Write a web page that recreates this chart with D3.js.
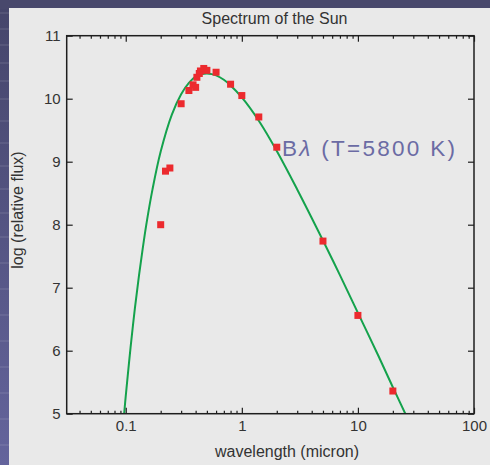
<!DOCTYPE html>
<html>
<head>
<meta charset="utf-8">
<script src="https://cdn.jsdelivr.net/npm/d3@7"></script>
<style>
  html, body { margin: 0; padding: 0; background: #48486c; }
  svg { display: block; }
  text { font-family: "Liberation Sans", Arial, sans-serif; }
</style>
</head>
<body>
<svg id="chart" width="490" height="465"></svg>
<script>
// Measured solar fluxes: wavelength (micron) and log10 relative flux
const obsWavelength = [0.2, 0.22, 0.24, 0.3, 0.35, 0.38, 0.4, 0.41, 0.43, 0.44, 0.47, 0.5, 0.6, 0.8, 1.0, 1.4, 2.0, 5, 10, 20];
const obsLogFlux    = [8.0, 8.85, 8.9, 9.92, 10.13, 10.22, 10.18, 10.34, 10.40, 10.44, 10.48, 10.45, 10.42, 10.23, 10.05, 9.71, 9.23, 7.74, 6.56, 5.36];

// Blackbody curve B_lambda for T = 5800 K, sampled along the wavelength axis
const bbWavelength = [0.097, 0.1, 0.105, 0.11, 0.12, 0.13, 0.14, 0.15, 0.17, 0.2, 0.25, 0.3, 0.35, 0.4, 0.45, 0.5, 0.55, 0.6, 0.7, 0.8, 1.0, 1.4, 2.0, 3.0, 5.0, 7.0, 10, 15, 20, 25.6];
const bbLogFlux    = [5.01, 5.28, 5.68, 6.05, 6.68, 7.19, 7.62, 7.99, 8.56, 9.16, 9.75, 10.07, 10.25, 10.35, 10.39, 10.40, 10.39, 10.37, 10.30, 10.21, 10.02, 9.65, 9.17, 8.56, 7.75, 7.20, 6.60, 5.92, 5.42, 5.0];

// Axis ticks
const xMajorTicks = [0.1, 1, 10, 100];
const xMinorTicks = [0.04, 0.05, 0.06, 0.07, 0.08, 0.09,
                     0.2, 0.3, 0.4, 0.5, 0.6, 0.7, 0.8, 0.9,
                     2, 3, 4, 5, 6, 7, 8, 9,
                     20, 30, 40, 50, 60, 70, 80, 90];
const yTicks = [5, 6, 7, 8, 9, 10, 11];

const svg = d3.select("#chart");
const W = 490, H = 465;

// Slide backdrop
const defs = svg.append("defs");
const grad = defs.append("linearGradient").attr("id", "bgGrad")
  .attr("x1", 0).attr("y1", 0).attr("x2", 0).attr("y2", 1);
grad.append("stop").attr("offset", "0%").attr("stop-color", "#45456a");
grad.append("stop").attr("offset", "100%").attr("stop-color", "#64649c");
svg.append("rect").attr("width", W).attr("height", H).attr("fill", "url(#bgGrad)");
svg.append("rect").attr("width", W).attr("height", 9).attr("fill", "#48486c");
const stripeYs = [12, 28, 44, 62, 80, 98, 120, 142, 165, 188, 212, 236, 262, 288, 314, 340, 366, 392, 418, 444];
svg.append("g").selectAll("rect").data(stripeYs).join("rect")
  .attr("x", 0).attr("y", d => d).attr("width", 9).attr("height", 2)
  .attr("fill", "#ffffff").attr("opacity", 0.08);

// Chart panel
svg.append("rect").attr("x", 9).attr("y", 8).attr("width", W - 9).attr("height", H - 8)
  .attr("fill", "#e9e9e9");

const plotLeft = 66.7, plotRight = 474, plotTop = 35.7, plotBottom = 413.7;

const x = d3.scaleLog().domain([0.031, 100]).range([plotLeft, plotRight]);
const y = d3.scaleLinear().domain([5, 11]).range([plotBottom, plotTop]);

defs.append("clipPath").attr("id", "plotClip")
  .append("rect").attr("x", plotLeft).attr("y", plotTop)
  .attr("width", plotRight - plotLeft).attr("height", plotBottom - plotTop);

// Blackbody curve
const curveData = bbWavelength.map((w, i) => [w, bbLogFlux[i]]);
svg.append("path")
  .datum(curveData)
  .attr("clip-path", "url(#plotClip)")
  .attr("fill", "none")
  .attr("stroke", "#14a24c")
  .attr("stroke-width", 2)
  .attr("d", d3.line().x(d => x(d[0])).y(d => y(d[1])).curve(d3.curveCatmullRom));

// Observed points
const pts = obsWavelength.map((w, i) => [w, obsLogFlux[i]]);
const s = 7;
svg.append("g").selectAll("rect").data(pts).join("rect")
  .attr("x", d => x(d[0]) - s / 2)
  .attr("y", d => y(d[1]) - s / 2)
  .attr("width", s).attr("height", s)
  .attr("fill", "#ec2a2e");

// Axes with inward ticks
const axisColor = "#1e1e1e";
function styleAxis(g) {
  g.select(".domain").remove();
  g.selectAll("line").attr("stroke", axisColor).attr("stroke-width", 1.2);
  g.selectAll("text").attr("fill", "#333").attr("font-size", 15);
}

svg.append("g").attr("transform", `translate(0,${plotBottom})`)
  .call(d3.axisBottom(x).tickValues(xMajorTicks).tickFormat(d3.format("~g")).tickSize(-6).tickPadding(7))
  .call(styleAxis);
svg.append("g").attr("transform", `translate(0,${plotBottom})`)
  .call(d3.axisBottom(x).tickValues(xMinorTicks).tickFormat("").tickSize(-3))
  .call(styleAxis);
svg.append("g").attr("transform", `translate(0,${plotTop})`)
  .call(d3.axisTop(x).tickValues(xMajorTicks).tickFormat("").tickSize(-6))
  .call(styleAxis);
svg.append("g").attr("transform", `translate(0,${plotTop})`)
  .call(d3.axisTop(x).tickValues(xMinorTicks).tickFormat("").tickSize(-3))
  .call(styleAxis);
svg.append("g").attr("transform", `translate(${plotLeft},0)`)
  .call(d3.axisLeft(y).tickValues(yTicks).tickFormat(d3.format("d")).tickSize(-6).tickPadding(6))
  .call(styleAxis);
svg.append("g").attr("transform", `translate(${plotRight},0)`)
  .call(d3.axisRight(y).tickValues(yTicks).tickFormat("").tickSize(-6))
  .call(styleAxis);

// Frame
svg.append("rect").attr("x", plotLeft).attr("y", plotTop)
  .attr("width", plotRight - plotLeft).attr("height", plotBottom - plotTop)
  .attr("fill", "none").attr("stroke", axisColor).attr("stroke-width", 1.5);

// Titles
svg.append("text").attr("x", 274.5).attr("y", 23.5).attr("text-anchor", "middle")
  .attr("font-size", 16).attr("fill", "#333").text("Spectrum of the Sun");
svg.append("text").attr("x", 287).attr("y", 457).attr("text-anchor", "middle")
  .attr("font-size", 16).attr("fill", "#333").text("wavelength (micron)");
svg.append("text").attr("transform", "translate(23,210) rotate(-90)").attr("text-anchor", "middle")
  .attr("font-size", 16).attr("fill", "#333").text("log (relative flux)");

// Curve annotation
const ann = svg.append("text").attr("x", 282).attr("y", 156)
  .attr("font-size", 22.5).attr("fill", "#6b6ba4")
  .attr("textLength", 173).attr("lengthAdjust", "spacing");
ann.append("tspan").text("B");
ann.append("tspan").attr("font-style", "italic").text("\u03bb");
ann.append("tspan").text(" (T=5800 K)");
</script>
</body>
</html>
